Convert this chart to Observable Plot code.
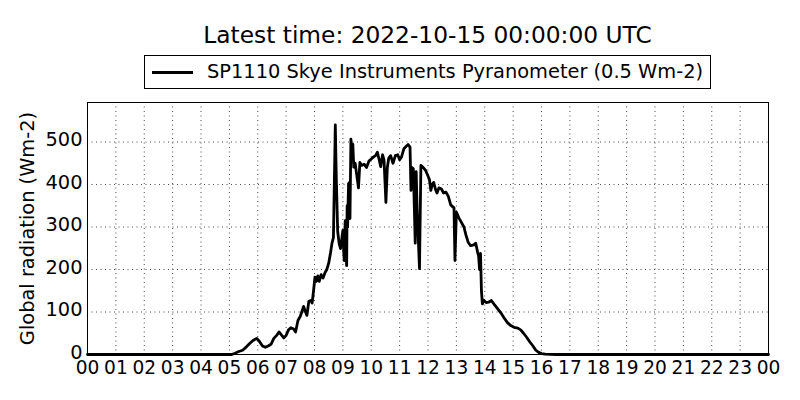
<!DOCTYPE html>
<html>
<head>
<meta charset="utf-8">
<script src="https://cdn.jsdelivr.net/npm/d3@7"></script>
<script src="https://cdn.jsdelivr.net/npm/@observablehq/plot@0.6"></script>
<style>
  html, body { margin: 0; padding: 0; background: white; }
  #wrap { position: relative; width: 800px; height: 400px; background: white; font-family: "DejaVu Sans", sans-serif; color: black; overflow: hidden; }
  #title { position: absolute; left: 87px; width: 681px; top: 20px; text-align: center; font-size: 23.3px; line-height: 30px; white-space: nowrap; }
  #legend { position: absolute; left: 144px; top: 55px; width: 565px; height: 32px; border: 1px solid black; background: white; }
  #legend .swatch { position: absolute; left: 7px; top: 15px; width: 41px; height: 3px; background: black; }
  #legend .label { position: absolute; left: 62px; top: 0; font-size: 19.4px; line-height: 32px; white-space: nowrap; }
  #chart { position: absolute; left: 0; top: 100px; }
</style>
</head>
<body>
<div id="wrap">
  <div id="title">Latest time: 2022-10-15 00:00:00 UTC</div>
  <div id="legend"><div class="swatch"></div><div class="label">SP1110 Skye Instruments Pyranometer (0.5 Wm-2)</div></div>
  <div id="chart"></div>
</div>
<script>
// Sample times (UTC, HH:MM) and global radiation values (Wm-2)
const times = [
  "00:00","05:05","05:12","05:20","05:28","05:36","05:44","05:50","05:58","06:04",
  "06:10","06:16","06:22","06:28","06:34","06:40","06:45","06:50","06:55","07:00",
  "07:05","07:10","07:16","07:20","07:25","07:30","07:37","07:41","07:44","07:48",
  "07:52","07:55","07:58","08:01","08:04","08:07","08:10","08:14","08:18","08:22",
  "08:26","08:30","08:34","08:37","08:40","08:44","08:46","08:49","08:52","08:55",
  "08:58","09:00","09:02","09:03","09:05","09:06","09:08","09:09","09:10","09:12",
  "09:14","09:15","09:17","09:19","09:21","09:23","09:26","09:29","09:33","09:36",
  "09:40","09:45","09:50","09:55","10:00","10:05","10:09","10:13","10:16","10:20",
  "10:24","10:27","10:31","10:34","10:37","10:41","10:46","10:51","10:56","11:00",
  "11:04","11:09","11:14","11:18","11:22","11:24","11:26","11:29","11:31","11:33",
  "11:35","11:37","11:42","11:45","11:50","11:55","12:00","12:03","12:06","12:09",
  "12:12","12:16","12:19","12:23","12:28","12:33","12:38","12:43","12:48","12:52",
  "12:55","12:57","13:00","13:05","13:10","13:16","13:20","13:25","13:30","13:37",
  "13:41","13:45","13:47","13:49","13:51","13:53","13:55","13:58","14:03","14:08",
  "14:14","14:20","14:27","14:34","14:41","14:48","14:55","15:02","15:10","15:16",
  "15:22","15:29","15:35","15:42","15:48","15:54","16:00","16:08","16:30","24:00"
];
const radiation = [
  0, 0, 3, 7, 10, 18, 27, 33, 38, 30,
  20, 17, 20, 24, 38, 45, 53, 46, 39, 45,
  58, 63, 60, 53, 80, 90, 113, 100, 92, 125,
  127, 121, 150, 182, 172, 185, 172, 188, 180, 192,
  200, 215, 240, 262, 275, 540, 420, 290, 262, 249,
  275, 292, 237, 221, 315, 250, 209, 350, 300, 402,
  405, 320, 507, 470, 495, 441, 450, 425, 392, 452,
  445, 448, 440, 455, 460, 465, 468, 476, 462, 442,
  470, 458, 358, 440, 462, 468, 450, 468, 470, 458,
  465, 484, 490, 494, 488, 386, 440, 437, 350, 262,
  430, 343, 202, 445, 440, 433, 420, 412, 386, 400,
  405, 388, 380, 392, 390, 380, 382, 372, 352, 348,
  345, 221, 335, 322, 312, 300, 282, 264, 256, 258,
  262, 240, 232, 200, 238, 150, 119, 128, 122, 123,
  127, 118, 108, 98, 86, 75, 68, 64, 62, 58,
  50, 40, 30, 20, 10, 5, 2, 1, 0, 0
];
const hourTicks = d3.range(0, 25);
const yTicks = [0, 100, 200, 300, 400, 500];
const yMax = 593;

const data = times.map((t, i) => ({
  hour: +t.slice(0, 2) + +t.slice(3, 5) / 60,
  value: radiation[i]
}));

const gridStyle = { stroke: "black", strokeOpacity: 0.9, strokeWidth: 0.8, strokeDasharray: "1,3.5" };

const chart = Plot.plot({
  width: 800,
  height: 300,
  marginLeft: 87,
  marginRight: 32,
  marginTop: 2,
  marginBottom: 46,
  style: { fontFamily: "DejaVu Sans", fontSize: "19.4px", color: "black", background: "white" },
  x: { domain: [0, 24] },
  y: { domain: [0, yMax] },
  marks: [
    Plot.gridX(hourTicks, gridStyle),
    Plot.gridY(yTicks, gridStyle),
    Plot.axisX({ ticks: hourTicks, tickFormat: d => String(d % 24).padStart(2, "0"), tickSize: 0, tickPadding: 6, label: null, fontSize: "18.6px" }),
    Plot.axisY({ ticks: yTicks, tickSize: 0, tickPadding: 5, dy: -2, label: "Global radiation (Wm-2)", labelAnchor: "center", labelArrow: "none", labelOffset: 67, fontSize: "19.4px" }),
    Plot.line(data, { x: "hour", y: "value", stroke: "black", strokeWidth: 2.8, strokeLinejoin: "round" }),
    Plot.frame({ stroke: "black", strokeWidth: 1 })
  ]
});
document.getElementById("chart").appendChild(chart);
</script>
</body>
</html>
